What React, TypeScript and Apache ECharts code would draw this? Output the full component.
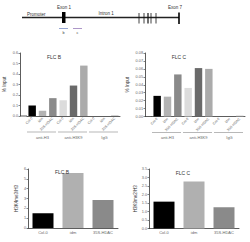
import React, { useEffect, useRef } from "react";
import * as echarts from "echarts";

const chipCategories = ["Col-0", "idm", "35S-HDAC", "Col-0", "idm", "35S-HDAC", "Col-0", "idm", "35S-HDAC"];
const chipGroups = ["anti-H3", "anti-H3K9", "IgG"];
const flcBInput = [0.10, 0.05, 0.17, 0.15, 0.29, 0.48, 0, 0, 0.005];
const flcCInput = [0.026, 0.025, 0.053, 0.036, 0.061, 0.060, 0, 0, 0.001];
const chipColors = ["#000000", "#b3b3b3", "#8a8a8a", "#dcdcdc", "#6a6a6a", "#ababab", "#dcdcdc", "#6a6a6a", "#ababab"];

const ratioCategories = ["Col-0", "idm", "35S-HDAC"];
const flcBRatio = [1.5, 5.6, 2.85];
const flcCRatio = [1.58, 2.76, 1.25];
const ratioColors = ["#000000", "#b0b0b0", "#8a8a8a"];

const FONT = "Liberation Sans, Arial, sans-serif";
const AX = "#333";
const LBL = "#666";

const topGrids = [
  { left: 27, top: 53, width: 93, height: 63 },
  { left: 152, top: 53, width: 93, height: 63.5 },
];
const botGrids = [
  { left: 28, top: 169, width: 90, height: 59 },
  { left: 149, top: 169, width: 90, height: 59.5 },
];

export default function App() {
  const ref = useRef<HTMLDivElement>(null);
  useEffect(() => {
    if (!ref.current) return;
    const chart = echarts.init(ref.current, null, { renderer: "svg" });

    const grids = [...topGrids, ...botGrids];
    const xAxes: any[] = [];
    const yAxes: any[] = [];
    const series: any[] = [];
    const graphic: any[] = [];

    const yBase = (name: string, gi: number, max: number, interval: number, dec: number, offset: number, nameGap: number) => ({
      type: "value",
      gridIndex: gi,
      min: 0,
      max,
      interval,
      offset,
      name,
      nameLocation: "middle",
      nameGap,
      nameTextStyle: { fontSize: 4.5, color: AX, fontFamily: FONT },
      axisLine: { show: true, lineStyle: { color: AX, width: 0.8 } },
      axisTick: { show: true, length: 1.5, lineStyle: { color: AX, width: 0.6 } },
      axisLabel: { fontSize: 3.8, color: LBL, margin: 2, fontFamily: FONT, formatter: (v: number) => v.toFixed(dec) },
      splitLine: { show: false },
    });

    const inputs = [flcBInput, flcCInput];
    const decs = [1, 2];
    const maxes = [0.6, 0.08];
    const ints = [0.1, 0.01];
    topGrids.forEach((g, i) => {
      xAxes.push({
        type: "category",
        gridIndex: i,
        data: chipCategories,
        axisLine: { show: true, lineStyle: { color: AX, width: 0.8 } },
        axisTick: { show: false },
        axisLabel: { interval: 0, rotate: 45, fontSize: 3.5, color: LBL, margin: 2, fontFamily: FONT },
      });
      xAxes.push({
        type: "category",
        gridIndex: i,
        position: "bottom",
        offset: 17,
        data: chipGroups,
        axisLine: { show: false },
        axisTick: { show: false },
        axisLabel: { interval: 0, fontSize: 4, color: LBL, margin: 2, fontFamily: FONT },
      });
      yAxes.push(yBase("% Input", i, maxes[i], ints[i], decs[i], 7, i === 0 ? 13 : 15));
      series.push({
        type: "bar",
        xAxisIndex: xAxes.length - 2,
        yAxisIndex: yAxes.length - 1,
        barWidth: "72%",
        data: inputs[i].map((v, k) => ({ value: v, itemStyle: { color: chipColors[k] } })),
      });
      graphic.push({
        type: "line",
        shape: { x1: g.left - 7, y1: g.top + g.height, x2: g.left, y2: g.top + g.height },
        style: { stroke: AX, lineWidth: 0.8 },
      });
      const cell = g.width / 3;
      chipGroups.forEach((_, k) => {
        graphic.push({
          type: "line",
          shape: { x1: g.left + k * cell, y1: g.top + g.height + 16, x2: g.left + (k + 1) * cell - 2, y2: g.top + g.height + 16 },
          style: { stroke: "#888", lineWidth: 0.6 },
        });
      });
    });

    const ratios = [flcBRatio, flcCRatio];
    const rNames = ["H3K4me3/H3", "H3K9me2/H3"];
    const rMax = [6, 3.5];
    const rInt = [1, 0.5];
    const rDec = [0, 1];
    botGrids.forEach((g, i) => {
      const gi = i + 2;
      xAxes.push({
        type: "category",
        gridIndex: gi,
        data: ratioCategories,
        axisLine: { show: true, lineStyle: { color: AX, width: 0.8 } },
        axisTick: { show: false },
        axisLabel: { interval: 0, fontSize: 4, color: LBL, margin: 2, fontFamily: FONT },
      });
      yAxes.push(yBase(rNames[i], gi, rMax[i], rInt[i], rDec[i], 0, 9));
      series.push({
        type: "bar",
        xAxisIndex: xAxes.length - 1,
        yAxisIndex: yAxes.length - 1,
        barWidth: "70%",
        data: ratios[i].map((v, k) => ({ value: v, itemStyle: { color: ratioColors[k] } })),
      });
    });

    const titleStyle = { fontSize: 5, fontWeight: "normal", color: AX, fontFamily: FONT };
    const titles = [
      { text: "FLC B", left: 54, top: 54 },
      { text: "FLC C", left: 179, top: 54 },
      { text: "FLC B", left: 62, top: 169 },
      { text: "FLC C", left: 183, top: 170 },
    ].map((t) => ({ text: t.text, left: t.left, top: t.top, textAlign: "center", padding: 0, textStyle: titleStyle }));

    const geneY = 17.5;
    graphic.push(
      { type: "line", shape: { x1: 22, y1: geneY, x2: 179, y2: geneY }, style: { stroke: "#222", lineWidth: 1.6 } },
      { type: "rect", shape: { x: 62, y: 12, width: 3.5, height: 11 }, style: { fill: "#000" } },
      ...[139, 144, 148, 151, 156].map((x) => ({
        type: "line",
        shape: { x1: x, y1: 13, x2: x, y2: 23.5 },
        style: { stroke: "#111", lineWidth: x === 148 ? 1.2 : 0.8 },
      })),
      { type: "line", shape: { x1: 179, y1: 12.5, x2: 179, y2: 24 }, style: { stroke: "#000", lineWidth: 1.6 } },
      { type: "text", x: 27, y: 14, style: { text: "Promoter", fontSize: 4.5, fill: "#333", fontFamily: FONT, textVerticalAlign: "middle" } },
      { type: "text", x: 64, y: 7.5, style: { text: "Exon 1", fontSize: 4.5, fill: "#333", fontFamily: FONT, textAlign: "center", textVerticalAlign: "middle" } },
      { type: "text", x: 106, y: 13, style: { text: "Intron 1", fontSize: 4.5, fill: "#333", fontFamily: FONT, textAlign: "center", textVerticalAlign: "middle" } },
      { type: "text", x: 175, y: 7.5, style: { text: "Exon 7", fontSize: 4.5, fill: "#333", fontFamily: FONT, textAlign: "center", textVerticalAlign: "middle" } },
      { type: "line", shape: { x1: 59, y1: 28.5, x2: 68, y2: 28.5 }, style: { stroke: "#6a7fc0", lineWidth: 0.7 } },
      { type: "line", shape: { x1: 73, y1: 28.5, x2: 82, y2: 28.5 }, style: { stroke: "#8a6ab0", lineWidth: 0.7 } },
      { type: "text", x: 63.5, y: 32.5, style: { text: "b", fontSize: 3.8, fill: "#444", fontFamily: FONT, textAlign: "center", textVerticalAlign: "middle" } },
      { type: "text", x: 77.5, y: 32.5, style: { text: "c", fontSize: 3.8, fill: "#444", fontFamily: FONT, textAlign: "center", textVerticalAlign: "middle" } }
    );

    chart.setOption({
      animation: false,
      backgroundColor: "#ffffff",
      title: titles,
      grid: grids.map((g) => ({ ...g, containLabel: false })),
      xAxis: xAxes,
      yAxis: yAxes,
      series,
      graphic,
    });
    return () => chart.dispose();
  }, []);
  return <div ref={ref} style={{ position: "fixed", left: 0, top: 0, width: 250, height: 242 }} />;
}
